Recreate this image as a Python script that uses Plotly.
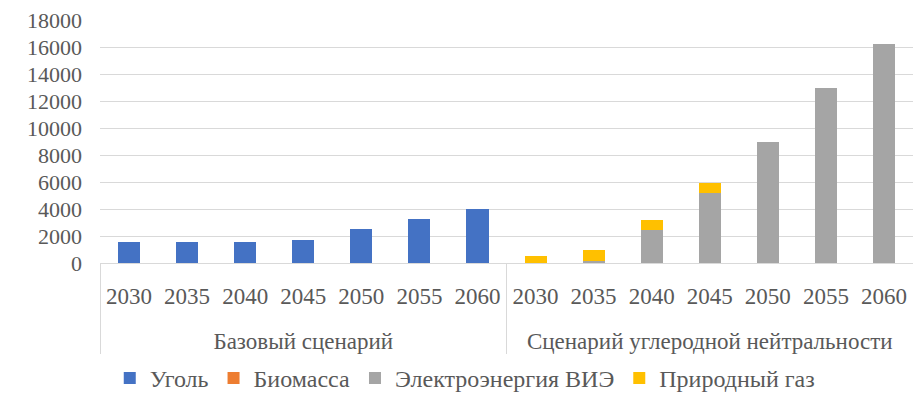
import plotly.graph_objects as go

groups = ["Базовый сценарий"] * 7 + ["Сценарий углеродной нейтральности"] * 7
years = ["2030", "2035", "2040", "2045", "2050", "2055", "2060"] * 2

coal = [1550, 1550, 1550, 1700, 2500, 3250, 4000, 0, 0, 0, 0, 0, 0, 0]
biomass = [0] * 14
res = [0, 0, 0, 0, 0, 0, 0, 0, 120, 2450, 5220, 8950, 13000, 16250]
gas = [0, 0, 0, 0, 0, 0, 0, 520, 860, 720, 690, 0, 0, 0]

series = [
    ("Уголь", coal, "#4472C4"),
    ("Биомасса", biomass, "#ED7D31"),
    ("Электроэнергия ВИЭ", res, "#A5A5A5"),
    ("Природный газ", gas, "#FFC000"),
]

year_labels = [y + "<br> " for y in years]

fig = go.Figure()
for name, vals, color in series:
    fig.add_trace(go.Bar(x=[groups, year_labels], y=vals, name=name,
                         marker=dict(color=color, line=dict(width=0))))

font = "Liberation Serif, Times New Roman, serif"
fig.update_layout(
    template="none",
    barmode="stack",
    bargap=0.62,
    width=913, height=401,
    margin=dict(l=100, r=0, t=20, b=134),
    paper_bgcolor="white", plot_bgcolor="white",
    font=dict(family=font, size=22, color="#595959"),
    showlegend=True,
    legend=dict(orientation="h", x=0.012, xanchor="left", y=-0.478, yanchor="middle",
                font=dict(family=font, size=24, color="#595959"), itemwidth=30,
                traceorder="normal", bgcolor="rgba(0,0,0,0)"),
    xaxis=dict(type="multicategory", showgrid=False, showline=True,
               linecolor="#d9d9d9", linewidth=1, showdividers=True,
               dividercolor="#d9d9d9", dividerwidth=1,
               ticklabelstandoff=12,
               tickfont=dict(family=font, size=23, color="#595959")),
    yaxis=dict(range=[0, 18000], dtick=2000, tickformat="d", showgrid=True,
               gridcolor="#d9d9d9", gridwidth=1, zeroline=False, showline=False,
               tickfont=dict(family=font, size=22, color="#595959"),
               ticklabelstandoff=17),
)
fig.write_html("out.html")
